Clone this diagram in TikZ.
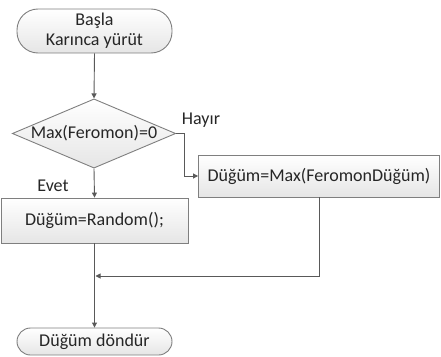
\documentclass[tikz,border=0pt]{standalone}
\usepackage{fontspec}
\setmainfont{Carlito}
\usetikzlibrary{shapes.geometric,arrows.meta,calc}
\definecolor{edgegray}{HTML}{7F7F7F}
\definecolor{linegray}{HTML}{595959}
\begin{document}
\begin{tikzpicture}[x=1pt,y=1pt,
  every node/.style={font=\fontsize{18}{20}\selectfont, text=black!85},
  shapebox/.style={draw=edgegray, line width=0.9pt, top color=white, bottom color=black!10, inner sep=0pt},
  procbox/.style={shapebox, rectangle},
  decbox/.style={shapebox, diamond, aspect=2.36},
  conn/.style={draw=linegray, line width=0.9pt},
  arr/.style={conn, -{Triangle[length=5pt,width=5pt]}},
  lbl/.style={inner sep=0pt}
]
\useasboundingbox (0,0) rectangle (441,-356);
\node[procbox, rounded corners=21pt, minimum width=155pt, minimum height=44pt, align=center] (start) at (94.5,-31) {Başla\\Karınca yürüt};
\node[decbox, minimum width=158pt, minimum height=67pt] (dec) at (94,-133.5) {Max(Feromon)=0};
\node[procbox, minimum width=241pt, minimum height=42pt] (rbox) at (319,-176) {Düğüm=Max(FeromonDüğüm)};
\node[procbox, minimum width=187pt, minimum height=45pt] (lbox) at (94.5,-220.5) {Düğüm=Random();};
\node[procbox, rounded corners=13.5pt, minimum width=155pt, minimum height=27pt] (end) at (94.5,-341.5) {Düğüm döndür};
\node[lbl] (hayir) at (201,-120) {Hayır};
\node[lbl] (evet) at (53,-186) {Evet};
\coordinate (c1) at (184,-133.5);
\coordinate (c2) at (184,-176);
\coordinate (c3) at (319,-276);
\coordinate (join) at (95.5,-276);
\draw[arr] (start.south) -- (dec.north);
\draw[arr] (dec.east) -- (c1) -- (c2) -- (rbox.west);
\draw[arr] (dec.south) -- (lbox.north);
\draw[arr] (lbox.south) -- (end.north);
\draw[arr] (rbox.south) -- (c3) -- (join);
\end{tikzpicture}
\end{document}
